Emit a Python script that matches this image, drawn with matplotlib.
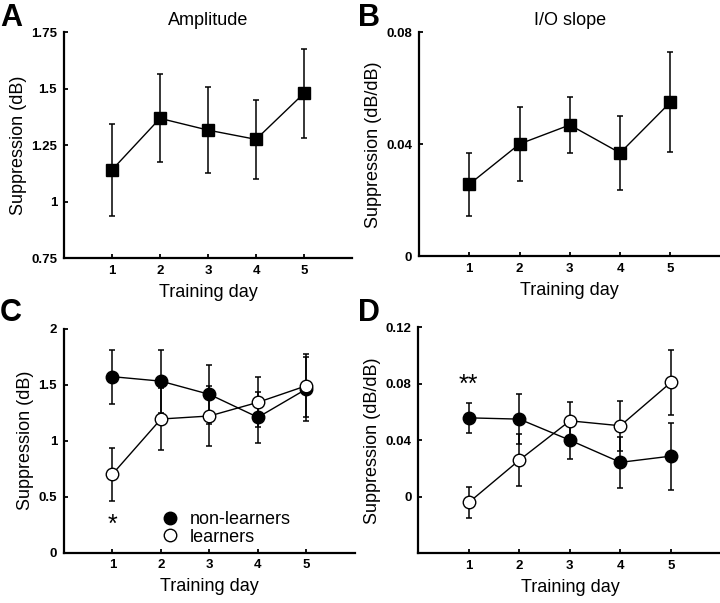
"""
plot.py
Suppression vs training day: amplitude and I/O slope, all subjects and by group.
"""

import matplotlib
matplotlib.use('Agg')
import matplotlib.pyplot as plt
from matplotlib.lines import Line2D

plt.rcParams['font.family'] = ['Liberation Sans', 'DejaVu Sans']

# ── Data ───────────────────────────────────────────────────────────
days = [1, 2, 3, 4, 5]

# A - amplitude, all listeners
amp_mean = [1.14, 1.368, 1.316, 1.275, 1.479]
amp_err  = [0.205, 0.195, 0.19, 0.175, 0.196]

# B - I/O slope, all listeners
slope_mean = [0.0257, 0.0401, 0.0469, 0.0369, 0.055]
slope_err  = [0.0112, 0.0133, 0.0100, 0.0133, 0.0178]

# C - amplitude by group
amp_non_mean = [1.57, 1.53, 1.412, 1.207, 1.46]
amp_non_err  = [0.24, 0.28, 0.262, 0.227, 0.29]
amp_lrn_mean = [0.70, 1.192, 1.219, 1.341, 1.489]
amp_lrn_err  = [0.237, 0.277, 0.268, 0.223, 0.28]

# D - I/O slope by group
slope_non_mean = [0.0559, 0.055, 0.0401, 0.0244, 0.0288]
slope_non_err  = [0.0105, 0.0177, 0.0134, 0.018, 0.0238]
slope_lrn_mean = [-0.004, 0.026, 0.0538, 0.0503, 0.081]
slope_lrn_err  = [0.0107, 0.0184, 0.013, 0.0177, 0.0232]

# ── Figure ─────────────────────────────────────────────────────────
fig = plt.figure(figsize=(7.2, 6.03), dpi=100)

axA = fig.add_axes([0.0889, 0.5721, 0.400, 0.3748])
axB = fig.add_axes([0.5819, 0.5750, 0.419, 0.3715])
axC = fig.add_axes([0.0889, 0.0837, 0.404, 0.3715])
axD = fig.add_axes([0.5810, 0.0824, 0.421, 0.3748])

err_kw = dict(color='black', linewidth=1.0, elinewidth=1.1, capsize=2, capthick=1.1)


def style_axis(ax, ylim, yticks, yticklabels, ylabel):
    ax.set_xlim(0, 6)
    ax.set_ylim(*ylim)
    ax.set_xticks(days)
    ax.set_xticklabels([str(d) for d in days], fontweight='bold', fontsize=9.5)
    ax.set_yticks(yticks)
    ax.set_yticklabels(yticklabels, fontweight='bold', fontsize=9.5)
    ax.spines['top'].set_visible(False)
    ax.spines['right'].set_visible(False)
    ax.spines['left'].set_linewidth(1.6)
    ax.spines['bottom'].set_linewidth(1.6)
    ax.tick_params(direction='in', length=3, width=1.3, pad=5)
    ax.set_xlabel('Training day', fontsize=13, labelpad=5)
    ax.set_ylabel(ylabel, fontsize=13, labelpad=3)


# A
axA.errorbar(days, amp_mean, yerr=amp_err, marker='s', markersize=9,
             markerfacecolor='black', markeredgecolor='black', **err_kw)
style_axis(axA, (0.75, 1.75), [0.75, 1, 1.25, 1.5, 1.75],
           ['0.75', '1', '1.25', '1.5', '1.75'], 'Suppression (dB)')
axA.set_title('Amplitude', fontsize=13, pad=5)

# B
axB.errorbar(days, slope_mean, yerr=slope_err, marker='s', markersize=9,
             markerfacecolor='black', markeredgecolor='black', **err_kw)
style_axis(axB, (0, 0.08), [0, 0.04, 0.08], ['0', '0.04', '0.08'],
           'Suppression (dB/dB)')
axB.set_title('I/O slope', fontsize=13, pad=5)

# C
axC.errorbar(days, amp_non_mean, yerr=amp_non_err, marker='o', markersize=9,
             markerfacecolor='black', markeredgecolor='black', zorder=3, **err_kw)
axC.errorbar(days, amp_lrn_mean, yerr=amp_lrn_err, marker='o', markersize=9,
             markerfacecolor='white', markeredgecolor='black', zorder=4, **err_kw)
style_axis(axC, (0, 2), [0, 0.5, 1, 1.5, 2], ['0', '0.5', '1', '1.5', '2'],
           'Suppression (dB)')
axC.text(1, 0.25, '*', ha='center', va='center', fontsize=18)

handles = [
    Line2D([], [], linestyle='none', marker='o', markersize=9,
           markerfacecolor='black', markeredgecolor='black', label='non-learners'),
    Line2D([], [], linestyle='none', marker='o', markersize=9,
           markerfacecolor='white', markeredgecolor='black', label='learners'),
]
axC.legend(handles=handles, loc='lower left', bbox_to_anchor=(0.29, -0.018),
           frameon=False, fontsize=13, handletextpad=0.5, labelspacing=0.05,
           borderaxespad=0.2, handlelength=1.2)

# D
axD.errorbar(days, slope_non_mean, yerr=slope_non_err, marker='o', markersize=9,
             markerfacecolor='black', markeredgecolor='black', zorder=3, **err_kw)
axD.errorbar(days, slope_lrn_mean, yerr=slope_lrn_err, marker='o', markersize=9,
             markerfacecolor='white', markeredgecolor='black', zorder=4, **err_kw)
style_axis(axD, (-0.04, 0.12), [0, 0.04, 0.08, 0.12],
           ['0', '0.04', '0.08', '0.12'], 'Suppression (dB/dB)')
axD.text(1, 0.079, '**', ha='center', va='center', fontsize=18)

# Panel letters
for letter, x, y in [('A', 0.0, 0.995), ('B', 0.497, 0.995),
                     ('C', 0.0, 0.505), ('D', 0.497, 0.505)]:
    fig.text(x, y, letter, fontsize=22, fontweight='bold', ha='left', va='top')

plt.savefig('out.png', dpi=100)
plt.close()
